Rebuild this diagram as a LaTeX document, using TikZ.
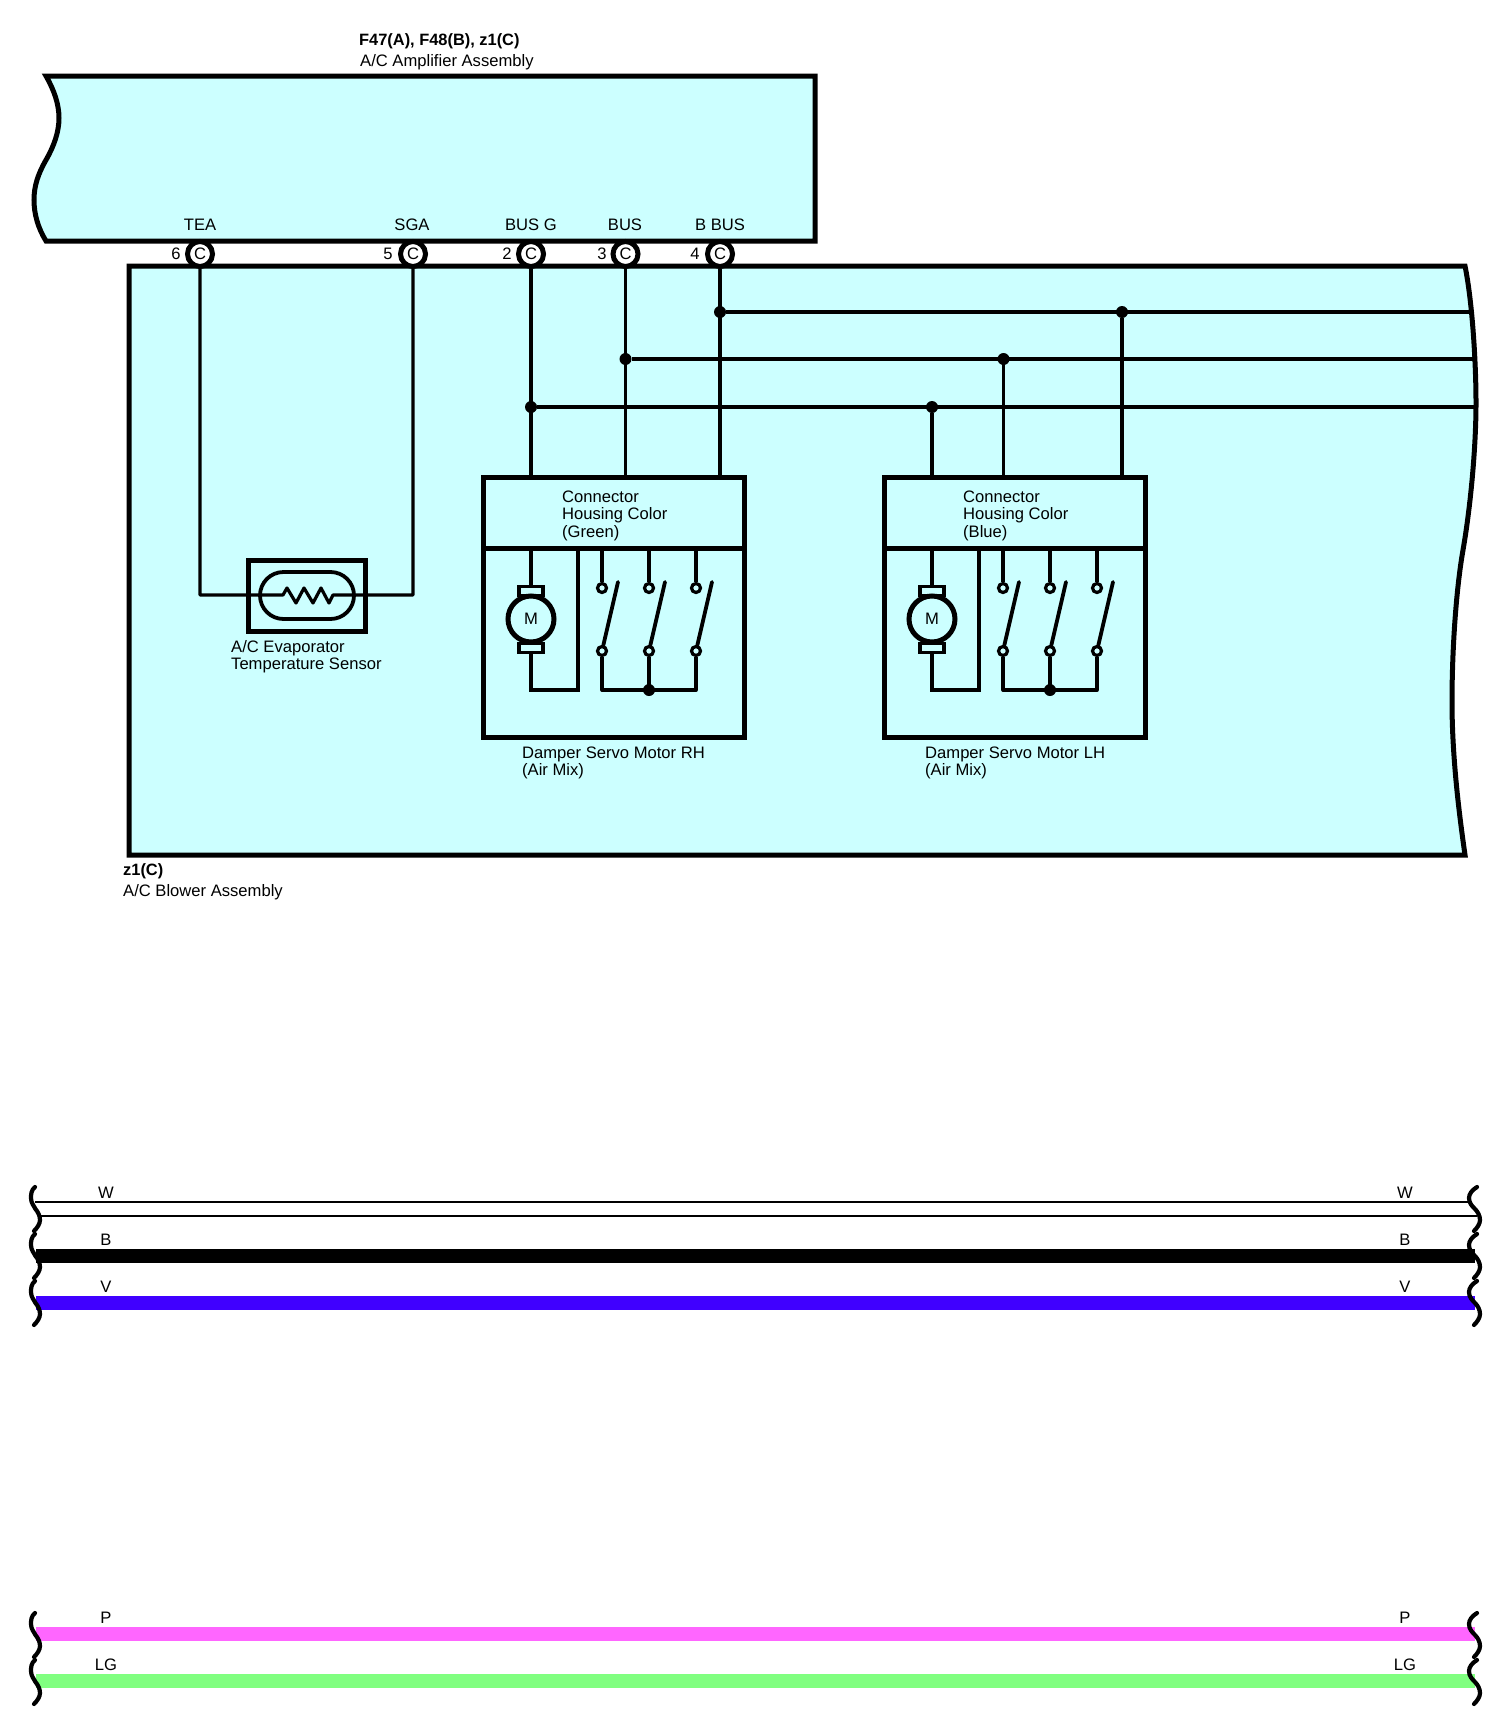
\documentclass[tikz,border=0pt]{standalone}
\usepackage{fontspec}
\setmainfont{Liberation Sans}
\definecolor{panel}{HTML}{CCFFFF}
\definecolor{wireV}{HTML}{4000FF}
\definecolor{wireP}{HTML}{FF66FF}
\definecolor{wireG}{HTML}{80FF80}
\tikzset{
  boxline/.style={draw=black,line width=5pt,fill=panel,line join=miter},
  wire/.style={draw=black,line width=3.2pt},
  heavy/.style={draw=black,line width=3.8pt},
  txt/.style={inner sep=0pt,anchor=west,align=left,yshift=-1.8pt,font=\fontsize{16.6}{17.6}\selectfont},
  boldtxt/.style={txt,font=\fontsize{16.4}{17.6}\selectfont\bfseries},
  lbl/.style={inner sep=0pt,anchor=center,text height=12pt,text depth=0pt,yshift=1pt,font=\fontsize{16.6}{17.6}\selectfont},
  term/.style={circle,draw=black,line width=5pt,fill=white,minimum size=25pt,inner sep=0pt,font=\fontsize{16.6}{17.6}\selectfont},
  dot/.style={circle,fill=black,minimum size=12pt,inner sep=0pt},
  contact/.style={circle,draw=black,line width=3.2pt,fill=panel,minimum size=9pt,inner sep=0pt},
  brk/.style={draw=black,line width=4.2pt,line cap=round},
  comp/.style={rectangle,draw=black,line width=5pt,fill=panel,inner sep=0pt,outer sep=0pt},
}
\newcommand{\brkL}[1]{\draw[brk,shift={(0,#1)}] (35,0) .. controls (31,3) and (31,8) .. (31,11) .. controls (31,16) and (34,19) .. (35.5,22) .. controls (38,25) and (40,29) .. (40,33) .. controls (40,37) and (37,41) .. (34,44);}
\newcommand{\brkR}[1]{\draw[brk,shift={(0,#1)}] (1477,0) .. controls (1472,3) and (1469,7) .. (1469,11) .. controls (1469,16) and (1472,19) .. (1475,22) .. controls (1478,25) and (1480,29) .. (1480,33) .. controls (1480,37) and (1477,41) .. (1474,44);}
\newcommand{\wirelbl}[2]{\node[lbl] at (106,#1) {#2};\node[lbl] at (1405,#1) {#2};}
\newcommand{\servo}[4]{%
\begin{scope}[shift={(#2,0)}]
  \node[comp,minimum width=261pt,minimum height=260pt] (#1box) at (613.5,607) {};
  \coordinate (#1dl) at (483,548);
  \coordinate (#1dr) at (744,548);
  \draw[draw=black,line width=5pt] (#1dl) -- (#1dr);
  \node[txt] at (562,514) {Connector\\Housing Color\\(#3)};
  \coordinate (#1mt) at (531,548);
  \coordinate (#1mbl) at (531,690);
  \coordinate (#1mbr) at (578,690);
  \coordinate (#1mtr) at (578,548);
  \draw[heavy,line join=miter] (#1mt) -- (#1mbl) -- (#1mbr) -- (#1mtr);
  \node[rectangle,draw=black,line width=3.8pt,fill=panel,minimum width=24pt,minimum height=9pt,inner sep=0pt] (#1bt) at (531,591) {};
  \node[rectangle,draw=black,line width=3.8pt,fill=panel,minimum width=24pt,minimum height=9pt,inner sep=0pt] (#1bb) at (531,648) {};
  \node[circle,draw=black,line width=5pt,fill=panel,minimum size=46pt,inner sep=0pt,font=\fontsize{16.6}{17.6}\selectfont] (#1m) at (531,619) {M};
  \foreach \s/\x in {a/602,b/649,c/696}{
    \coordinate (#1\s top) at (\x,548);
    \node[contact] (#1\s u) at (\x,588) {};
    \node[contact] (#1\s d) at (\x,651) {};
    \coordinate (#1\s bl) at (\x,690);
    \coordinate (#1\s tip) at (\x+16,582);
    \draw[heavy] (#1\s top) -- (#1\s u);
    \draw[heavy,line cap=round] (#1\s d) -- (#1\s tip);
    \draw[heavy] (#1\s d) -- (#1\s bl);
  }
  \draw[heavy,line join=miter,line cap=round] (#1abl) -- (#1cbl);
  \node[dot] (#1j) at (#1bbl) {};
\end{scope}}
\begin{document}
\begin{tikzpicture}[x=1pt,y=-1pt]
\useasboundingbox (0,0) rectangle (1497,1719);
\draw[boxline] (46,76) -- (815,76) -- (815,241) -- (46,241) .. controls (38,228) and (34,214) .. (34,200) .. controls (34,186) and (38,174) .. (46,160) .. controls (54,146) and (59,132) .. (59,118) .. controls (59,104) and (54,90) .. (46,76) -- cycle;
\node[boldtxt] at (359,39) {F47(A), F48(B), z1(C)};
\node[txt] at (360,60) {A/C Amplifier Assembly};
\draw[boxline] (129,266) -- (1465,266) .. controls (1472,300) and (1476,360) .. (1476,403) .. controls (1476,450) and (1470,510) .. (1463,550) .. controls (1456,590) and (1452,650) .. (1452,702) .. controls (1452,760) and (1460,820) .. (1465,855) -- (129,855) -- cycle;
\node[boldtxt] at (123,869) {z1(C)};
\node[txt] at (123,890) {A/C Blower Assembly};
\node[lbl] at (200,225) {TEA};
\node[lbl] at (412,225) {SGA};
\node[lbl] at (531,225) {BUS G};
\node[lbl] at (625,225) {BUS};
\node[lbl] at (720,225) {B BUS};
\node[lbl] at (176,254) {6};
\node[lbl] at (388,254) {5};
\node[lbl] at (507,254) {2};
\node[lbl] at (602,254) {3};
\node[lbl] at (695,254) {4};
\node[term] (t6) at (200,254) {C};
\node[term] (t5) at (413,254) {C};
\node[term] (t2) at (531,254) {C};
\node[term] (t3) at (625.5,254) {C};
\node[term] (t4) at (720,254) {C};
\servo{r}{0}{Green}{RH}
\servo{l}{401}{Blue}{LH}
\node[txt] at (522,761) {Damper Servo Motor RH\\(Air Mix)};
\node[txt] at (925,761) {Damper Servo Motor LH\\(Air Mix)};
\node[comp,minimum width=117pt,minimum height=71pt] (sens) at (306.5,595.5) {};
\node[rectangle,rounded corners=23.5pt,draw=black,line width=3.8pt,fill=panel,minimum width=94pt,minimum height=47pt,inner sep=0pt] (sensin) at (307,595.5) {};
\coordinate (zl) at (283,595);
\coordinate (zr) at (333,595);
\draw[wire,line join=round] (t6.south) |- (zl) -- (287,588) -- (296,603) -- (304,588) -- (313,603) -- (321,588) -- (329,603) -- (zr) -| (t5.south);
\node[txt] at (231,655) {A/C Evaporator\\Temperature Sensor};
\coordinate (e1) at (1472,312);
\coordinate (e2) at (1475,359);
\coordinate (e3) at (1476,407);
\draw[wire] (t2.south) -- (rbox.north -| t2);
\draw[wire] (t3.south) -- (rbox.north -| t3);
\draw[wire] (t4.south) -- (rbox.north -| t4);
\node[dot] (j4) at (t4 |- e1) {};
\node[dot] (j3) at (t3 |- e2) {};
\node[dot] (j2) at (t2 |- e3) {};
\draw[wire] (j4) -- (e1);
\draw[wire] (j3) -- (e2);
\draw[wire] (j2) -- (e3);
\coordinate (lg) at (932,477);
\coordinate (lb) at (1003.5,477);
\coordinate (lp) at (1122,477);
\node[dot] (k2) at (lg |- e3) {};
\node[dot] (k3) at (lb |- e2) {};
\node[dot] (k4) at (lp |- e1) {};
\draw[heavy] (k2) -- (lg);
\draw[heavy] (k3) -- (lb);
\draw[heavy] (k4) -- (lp);
\coordinate (wla) at (35,1202);  \coordinate (wra) at (1470,1202);
\coordinate (wlb) at (40,1216);  \coordinate (wrb) at (1477,1216);
\draw[line width=1.5pt] (wla) -- (wra);
\draw[line width=1.5pt] (wlb) -- (wrb);
\coordinate (bl) at (36,1256);  \coordinate (br) at (1475,1256);
\draw[line width=14.6pt,black] (bl) -- (br);
\coordinate (vl) at (36,1303);  \coordinate (vr) at (1475,1303);
\draw[line width=14.6pt,wireV] (vl) -- (vr);
\wirelbl{1193}{W}
\wirelbl{1240}{B}
\wirelbl{1287}{V}
\brkL{1187}\brkL{1234}\brkL{1281}
\brkR{1187}\brkR{1234}\brkR{1281}
\coordinate (pl) at (36,1634);  \coordinate (pr) at (1475,1634);
\draw[line width=14.6pt,wireP] (pl) -- (pr);
\coordinate (gl) at (36,1681);  \coordinate (gr) at (1475,1681);
\draw[line width=14.6pt,wireG] (gl) -- (gr);
\wirelbl{1618}{P}
\wirelbl{1665}{LG}
\brkL{1613}\brkL{1660}
\brkR{1613}\brkR{1660}
\end{tikzpicture}
\end{document}
